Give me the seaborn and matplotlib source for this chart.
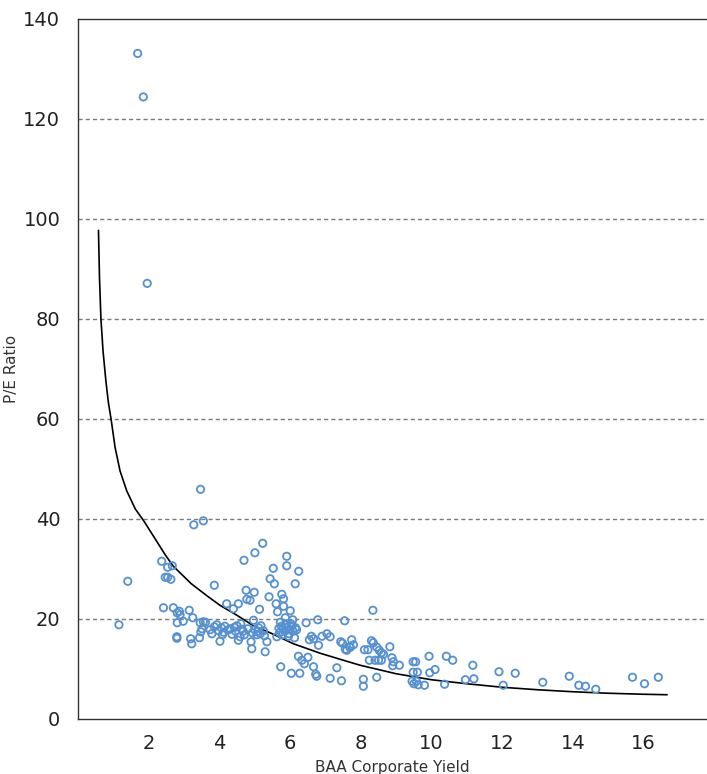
import numpy as np
import pandas as pd
import matplotlib
matplotlib.use('Agg')
import matplotlib.pyplot as plt
import seaborn as sns

# BAA corporate yield (x) vs P/E ratio (y)
baa_yield = [1.15, 1.40, 1.68, 1.84, 1.95, 2.36, 2.41, 2.46, 2.53, 2.53, 2.62, 2.66, 2.69,
             2.79, 2.79, 2.80, 2.80, 2.86, 2.88, 2.97, 3.14, 3.18, 3.21, 3.24, 3.27, 3.43,
             3.45, 3.46, 3.47, 3.50, 3.54, 3.54, 3.73, 3.78, 3.85, 3.85, 3.92, 3.97, 4.01,
             4.05, 4.11, 4.15, 4.20, 4.25, 4.30, 4.35, 4.39, 4.45, 4.49, 4.53, 4.53, 4.58,
             4.60, 4.67, 4.69, 4.70, 4.75, 4.77, 4.80, 4.86, 4.89, 4.91, 4.93, 4.96, 4.98,
             5.00, 5.00, 5.05, 5.08, 5.10, 5.13, 5.15, 5.22, 5.24, 5.29, 5.34, 5.40, 5.43,
             5.52, 5.55, 5.60, 5.64, 5.70, 5.73, 5.75, 5.76, 5.78, 5.80, 5.81, 5.81, 5.84,
             5.86, 5.88, 5.90, 5.90, 5.92, 5.95, 5.98, 6.00, 6.02, 6.03, 6.07, 6.08, 6.12,
             6.14, 6.15, 6.23, 6.24, 6.27, 6.33, 6.40, 6.45, 6.50, 6.54, 6.60, 6.66, 6.66,
             6.72, 6.75, 6.78, 6.80, 6.90, 7.04, 7.13, 7.13, 7.32, 7.43, 7.48, 7.45, 7.54,
             7.56, 7.60, 7.68, 7.70, 7.74, 7.79, 8.07, 8.07, 8.10, 8.20, 8.24, 8.30, 8.34,
             8.35, 8.40, 8.45, 8.45, 8.50, 8.52, 8.58, 8.58, 8.64, 8.82, 8.88, 8.92, 8.90,
             9.09, 9.48, 9.55, 9.48, 9.60, 9.45, 9.57, 9.50, 9.62, 9.80, 9.93, 9.95, 10.10,
             10.37, 10.42, 10.60, 10.96, 11.17, 11.20, 11.91, 12.03, 12.37, 13.15, 13.90,
             14.17, 14.36, 14.65, 15.69, 16.03, 16.42,
             5.72, 5.85, 5.96, 6.05, 5.68, 5.62, 6.18, 4.62, 4.42, 4.08, 3.60, 5.17, 5.27]
pe_ratio = [18.8, 27.5, 133.1, 124.4, 87.1, 31.5, 22.2, 28.3, 28.3, 30.3, 27.9, 30.6, 22.2,
            16.4, 16.1, 21.2, 19.2, 21.5, 20.8, 19.5, 21.7, 16.0, 15.0, 20.2, 38.8, 16.2,
            19.2, 45.9, 17.4, 18.0, 19.4, 39.6, 17.8, 17.0, 26.7, 18.4, 18.8, 17.6, 15.5,
            18.2, 17.3, 18.5, 23.0, 17.8, 18.0, 16.9, 22.0, 17.5, 18.6, 23.0, 15.7, 16.4,
            19.0, 17.5, 31.7, 16.8, 25.7, 23.9, 18.0, 23.7, 15.4, 14.0, 17.2, 19.7, 25.3,
            33.2, 17.8, 16.8, 17.5, 18.2, 21.9, 17.0, 35.1, 17.6, 13.4, 15.4, 24.4, 28.0,
            30.1, 27.0, 23.0, 21.4, 17.2, 10.4, 18.5, 24.9, 16.8, 18.0, 24.0, 22.5, 17.5,
            20.2, 19.0, 32.5, 30.6, 18.3, 16.5, 17.8, 21.6, 19.0, 9.1, 19.8, 17.5, 16.2,
            27.0, 18.2, 12.5, 29.5, 9.1, 11.7, 11.0, 19.2, 12.3, 15.8, 16.5, 16.0, 10.4,
            8.9, 8.5, 19.8, 14.7, 16.5, 17.0, 16.4, 8.1, 10.2, 15.4, 15.1, 7.6, 19.6,
            13.9, 13.7, 14.4, 14.3, 15.8, 14.8, 7.9, 6.5, 13.8, 13.8, 11.7, 15.6, 21.7,
            15.2, 11.7, 8.3, 14.3, 11.7, 13.7, 11.7, 13.2, 12.9, 14.4, 12.2, 11.4, 10.6,
            10.7, 11.4, 11.4, 9.3, 9.3, 7.5, 7.5, 7.0, 6.8, 6.7, 12.5, 9.2, 9.85,
            6.9, 12.5, 11.7, 7.8, 10.7, 8.0, 9.4, 6.7, 9.1, 7.3, 8.5,
            6.7, 6.5, 5.9, 8.3, 7.0, 8.3,
            19.3, 18.8, 17.0, 18.6, 18.1, 16.4, 17.8, 17.9, 18.3, 16.8, 19.3, 18.6, 16.6]

# fitted trend line
fit_x = [0.57, 0.60, 0.64, 0.70, 0.78, 0.85, 0.93, 1.04, 1.18, 1.37, 1.61, 1.87, 2.03,
         2.21, 2.45, 2.69, 3.20, 3.66, 4.01, 4.49, 4.96, 5.43, 6.09, 6.85, 7.41, 7.98,
         9.0, 10.0, 11.0, 12.0, 13.0, 14.0, 15.0, 16.0, 16.67]
fit_y = [97.7, 88.0, 80.0, 73.5, 67.6, 63.3, 59.8, 54.3, 49.6, 45.6, 42.0, 39.4, 37.6,
         35.6, 32.9, 30.5, 27.0, 24.5, 22.7, 20.7, 18.6, 17.2, 15.0, 13.1, 11.9, 10.7,
         9.0, 7.8, 7.0, 6.3, 5.8, 5.4, 5.1, 4.9, 4.8]

df = pd.DataFrame({'BAA Corporate Yield': baa_yield, 'P/E Ratio': pe_ratio})
fit = pd.DataFrame({'x': fit_x, 'y': fit_y})

sns.set_style('white')
plt.rcParams['font.family'] = ['DejaVu Sans']

fig = plt.figure(figsize=(7.07, 7.74), dpi=100)
ax = fig.add_axes([0.1108, 0.0714, 0.8892, 0.9041])

# dashed gridlines
for g in [20, 40, 60, 80, 100, 120]:
    ax.axhline(g, color='#7a7a7a', lw=1.0, ls=(0, (3, 2.2)), zorder=0)

sns.lineplot(data=fit, x='x', y='y', sort=False, estimator=None, color='black', lw=1.2, ax=ax)
sns.scatterplot(data=df, x='BAA Corporate Yield', y='P/E Ratio', marker='o', s=28,
                facecolors='none', edgecolor='#5590d0', linewidth=1.3, ax=ax, zorder=3)

ax.set_xlim(0, 17.8)
ax.set_ylim(0, 140)
ax.set_xticks([2, 4, 6, 8, 10, 12, 14, 16])
ax.set_yticks([0, 20, 40, 60, 80, 100, 120, 140])
ax.tick_params(axis='both', direction='out', length=5, width=1, color='#333333',
               labelsize=14, labelcolor='#222222', pad=6)
ax.tick_params(axis='y', pad=8)
ax.set_xlabel('BAA Corporate Yield', fontsize=11, color='#333333', labelpad=5)
ax.set_ylabel('P/E Ratio', fontsize=11, color='#333333', labelpad=3)

for s in ['left', 'bottom', 'top']:
    ax.spines[s].set_color('#333333')
    ax.spines[s].set_linewidth(1.0)
ax.spines['right'].set_visible(False)

fig.savefig('out.png', dpi=100)
